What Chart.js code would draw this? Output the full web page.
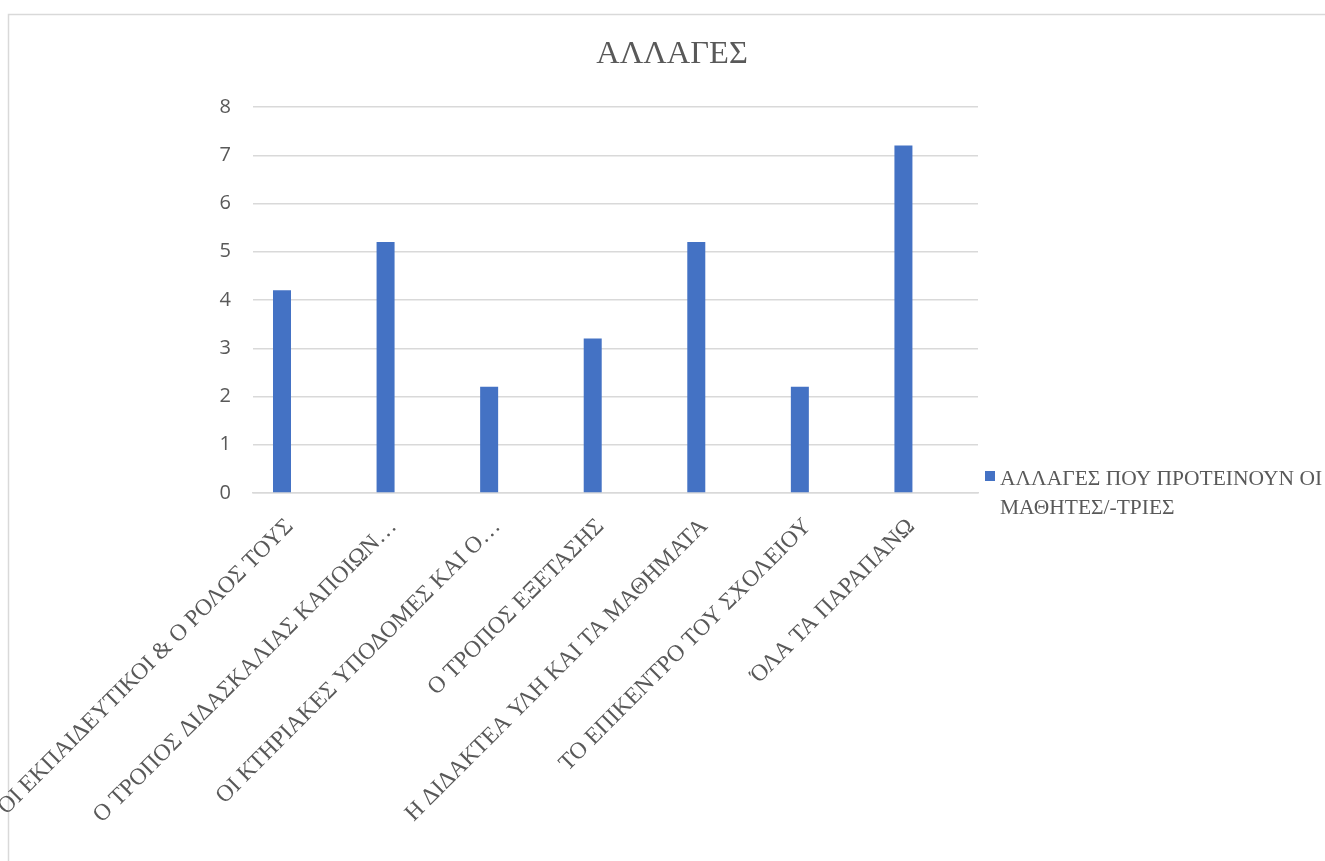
<!DOCTYPE html>
<html lang="el">
<head>
<meta charset="utf-8">
<title>ΑΛΛΑΓΕΣ</title>
<script src="https://cdn.jsdelivr.net/npm/chart.js@4/dist/chart.umd.min.js"></script>
<style>
  html, body { margin: 0; padding: 0; background: #ffffff; }
  #wrap { width: 1325px; height: 861px; position: relative; }
</style>
</head>
<body>
<div id="wrap"><canvas id="chart" width="1325" height="861"></canvas></div>
<script>
// Chart text and values
const chartTitle = 'ΑΛΛΑΓΕΣ';
const seriesName = 'ΑΛΛΑΓΕΣ ΠΟΥ ΠΡΟΤΕΙΝΟΥΝ ΟΙ ΜΑΘΗΤΕΣ/-ΤΡΙΕΣ';
const legendLines = ['ΑΛΛΑΓΕΣ ΠΟΥ ΠΡΟΤΕΙΝΟΥΝ ΟΙ', 'ΜΑΘΗΤΕΣ/-ΤΡΙΕΣ'];
const categories = [
  'ΟΙ ΕΚΠΑΙΔΕΥΤΙΚΟΙ & Ο ΡΟΛΟΣ ΤΟΥΣ',
  'Ο ΤΡΟΠΟΣ ΔΙΔΑΣΚΑΛΙΑΣ ΚΑΠΟΙΩΝ…',
  'ΟΙ ΚΤΗΡΙΑΚΕΣ ΥΠΟΔΟΜΕΣ ΚΑΙ Ο…',
  'Ο ΤΡΟΠΟΣ ΕΞΕΤΑΣΗΣ',
  'Η ΔΙΔΑΚΤΕΑ ΥΛΗ ΚΑΙ ΤΑ ΜΑΘΗΜΑΤΑ',
  'ΤΟ ΕΠΙΚΕΝΤΡΟ ΤΟΥ ΣΧΟΛΕΙΟΥ',
  'ΌΛΑ ΤΑ ΠΑΡΑΠΑΝΩ'
];
const proposals = [4.2, 5.2, 2.2, 3.2, 5.2, 2.2, 7.2];
// second, empty series of the clustered chart (keeps bars in the left slot)
const emptySeries = [null, null, null, null, null, null, null];
const yTicks = [0, 1, 2, 3, 4, 5, 6, 7, 8];

const BAR_BLUE = '#4472C4';
const TEXT_GREY = '#595959';
const GRID_GREY = '#d9d9d9';
const SERIF = '"Liberation Serif", "Times New Roman", serif';

// Outer frame, title and wrapped legend
const decorations = {
  id: 'decorations',
  beforeDraw(chart) {
    const ctx = chart.ctx;
    ctx.save();
    ctx.fillStyle = '#ffffff';
    ctx.fillRect(0, 0, chart.width, chart.height);
    ctx.strokeStyle = GRID_GREY;
    ctx.lineWidth = 1.5;
    ctx.beginPath();
    ctx.moveTo(8.5, chart.height);
    ctx.lineTo(8.5, 14.5);
    ctx.lineTo(chart.width, 14.5);
    ctx.stroke();
    ctx.restore();
  },
  afterDraw(chart) {
    const ctx = chart.ctx;
    ctx.save();
    ctx.fillStyle = TEXT_GREY;
    ctx.textBaseline = 'alphabetic';
    ctx.textAlign = 'center';
    ctx.font = '32.5px ' + SERIF;
    ctx.fillText(chartTitle, 672, 63);

    const ds = chart.data.datasets[0];
    ctx.fillStyle = ds.backgroundColor;
    ctx.fillRect(985, 471, 10, 10);
    ctx.fillStyle = TEXT_GREY;
    ctx.textAlign = 'left';
    ctx.font = '21.5px ' + SERIF;
    legendLines.forEach((line, i) => ctx.fillText(line, 1000, 485 + i * 29));
    ctx.restore();
  }
};

new Chart(document.getElementById('chart'), {
  type: 'bar',
  data: {
    labels: categories,
    datasets: [
      {
        label: seriesName,
        data: proposals,
        backgroundColor: BAR_BLUE,
        borderWidth: 0,
        categoryPercentage: 0.88,
        barPercentage: 0.395
      },
      {
        label: '',
        data: emptySeries,
        backgroundColor: 'rgba(0,0,0,0)',
        categoryPercentage: 0.88,
        barPercentage: 0.395
      }
    ]
  },
  options: {
    responsive: false,
    animation: false,
    layout: { padding: { top: 107, left: 9, right: 347, bottom: 0 } },
    plugins: {
      legend: { display: false },
      title: { display: false },
      tooltip: { enabled: false }
    },
    scales: {
      x: {
        grid: { display: false, drawTicks: false },
        border: { display: true, color: GRID_GREY, width: 1.5 },
        ticks: {
          autoSkip: false,
          minRotation: 45,
          maxRotation: 45,
          padding: 20,
          labelOffset: -15,
          color: TEXT_GREY,
          font: { family: SERIF, size: 23.5 }
        },
        afterFit(scale) {
          scale.height = 368;
          // long rotated labels may run into the left margin
          scale.paddingLeft = 0;
          scale.paddingRight = 0;
        }
      },
      y: {
        min: 0,
        max: 8,
        afterBuildTicks(scale) { scale.ticks = yTicks.map(v => ({ value: v })); },
        grid: { color: GRID_GREY, lineWidth: 1.5, drawTicks: false },
        border: { display: false },
        ticks: {
          padding: 22,
          color: TEXT_GREY,
          font: { family: '"Open Sans", "Liberation Sans", sans-serif', size: 20 }
        },
        afterFit(scale) { scale.width = 244; }
      }
    }
  },
  plugins: [decorations]
});
</script>
</body>
</html>
